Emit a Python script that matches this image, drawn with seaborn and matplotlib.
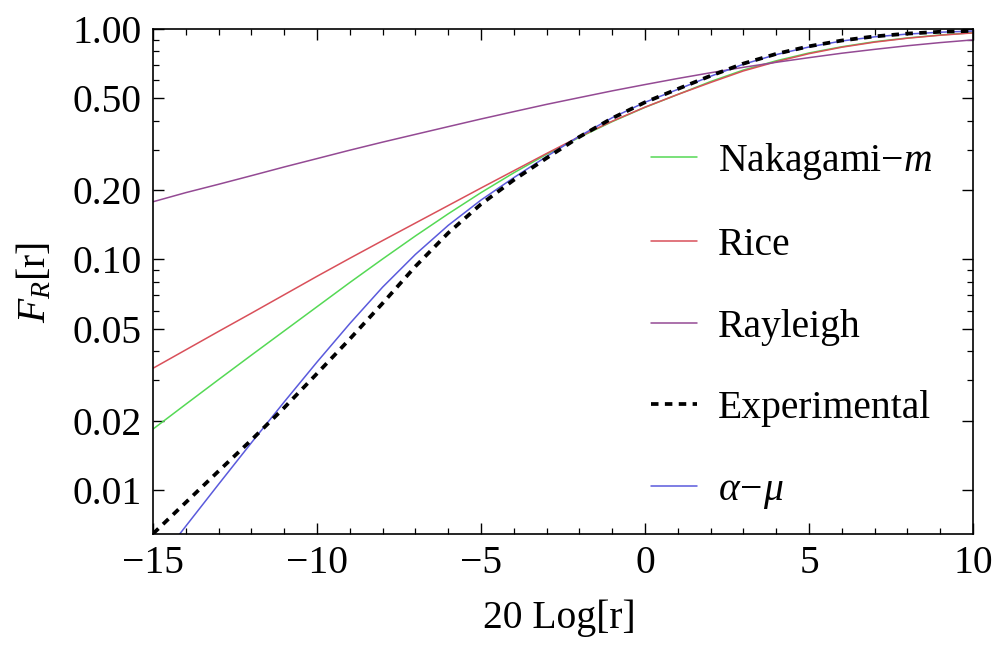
import numpy as np
import pandas as pd
import matplotlib
matplotlib.use("Agg")
import matplotlib.pyplot as plt
import seaborn as sns
from matplotlib.ticker import FixedLocator, FixedFormatter, MultipleLocator

# ---- data ----
x_db = [-15, -14, -13, -12, -11, -10, -9, -8, -7, -6, -5, -4, -3, -2, -1,
        0, 1, 2, 3, 4, 5, 6, 7, 8, 9, 10]

nakagami = [0.01837, 0.02355, 0.03013, 0.03846, 0.04898, 0.06237, 0.07943, 0.1005,
            0.1265, 0.1578, 0.1950, 0.2377, 0.2858, 0.3388, 0.3963, 0.4571,
            0.5200, 0.5916, 0.6637, 0.7278, 0.7870, 0.8375, 0.8810, 0.9141,
            0.9419, 0.9638]

rice = [0.03373, 0.04055, 0.04875, 0.05848, 0.07031, 0.08453, 0.1012, 0.1208,
        0.1439, 0.1714, 0.2042, 0.2427, 0.2884, 0.3412, 0.3981, 0.4581,
        0.5200, 0.5861, 0.6577, 0.7211, 0.7816, 0.8337, 0.8770, 0.9120,
        0.9397, 0.9616]

rayleigh = [0.178, 0.195, 0.212, 0.231, 0.252, 0.274, 0.298, 0.323, 0.349,
            0.377, 0.407, 0.438, 0.471, 0.504, 0.539, 0.574, 0.610, 0.646,
            0.682, 0.717, 0.751, 0.785, 0.816, 0.846, 0.873, 0.897]

experimental = [0.006457, 0.008831, 0.01208, 0.01648, 0.02275, 0.03199, 0.04519,
                0.06457, 0.09333, 0.1303, 0.1738, 0.2213, 0.2754, 0.3404,
                0.4102, 0.4808, 0.5495, 0.6266, 0.7079, 0.7798, 0.8414,
                0.8913, 0.9290, 0.9550, 0.9727, 0.9817]

alpha_mu = [0.004571, 0.006966, 0.01059, 0.01603, 0.02410, 0.03589, 0.05272,
            0.07586, 0.1052, 0.1406, 0.1811, 0.2265, 0.2799, 0.3428, 0.4121,
            0.4808, 0.5470, 0.6237, 0.7031, 0.7745, 0.8356, 0.8872, 0.9247,
            0.9506, 0.9683, 0.9795]

y_ticks = [0.01, 0.02, 0.05, 0.10, 0.20, 0.50, 1.00]
y_tick_labels = ["0.01", "0.02", "0.05", "0.10", "0.20", "0.50", "1.00"]
y_minor = [0.03, 0.04, 0.06, 0.07, 0.08, 0.09, 0.3, 0.4, 0.6, 0.7, 0.8, 0.9]
x_ticks = [-15, -10, -5, 0, 5, 10]

labels = ["Nakagami\u2212$m$", "Rice", "Rayleigh", "Experimental", r"$\alpha\!-\!\mu$"]

# ---- style ----
sns.set_theme(style="ticks")
plt.rcParams["font.family"] = ["Liberation Serif", "DejaVu Serif"]
plt.rcParams["mathtext.fontset"] = "custom"
plt.rcParams["mathtext.rm"] = "Liberation Serif"
plt.rcParams["mathtext.it"] = "Liberation Serif:italic"
plt.rcParams["mathtext.bf"] = "Liberation Serif:bold"
plt.rcParams["axes.unicode_minus"] = True
for key in ["text.color", "axes.labelcolor", "xtick.color", "ytick.color",
            "xtick.labelcolor", "ytick.labelcolor", "axes.edgecolor"]:
    plt.rcParams[key] = "black"

FS = 28.5

fig = plt.figure(figsize=(9.98, 6.52), dpi=100)
ax = fig.add_axes([153 / 998, 1 - 534 / 652, 820 / 998, 505 / 652])

colors = {"nak": "#55d955", "rice": "#d9505a", "ray": "#944a94",
          "exp": "#000000", "am": "#5a5adc"}

sns.lineplot(x=x_db, y=nakagami, ax=ax, color=colors["nak"], lw=1.1, label=labels[0])
sns.lineplot(x=x_db, y=rice, ax=ax, color=colors["rice"], lw=1.1, label=labels[1])
sns.lineplot(x=x_db, y=rayleigh, ax=ax, color=colors["ray"], lw=1.1, label=labels[2])
sns.lineplot(x=x_db, y=alpha_mu, ax=ax, color=colors["am"], lw=1.1, label=labels[4])
sns.lineplot(x=x_db, y=experimental, ax=ax, color=colors["exp"], lw=2.7,
             linestyle=(0, (2.0, 1.7)), label=labels[3])

ax.set_yscale("log")
ax.set_xlim(-15, 10)
ax.set_ylim(10 ** -2.191, 1.0)

ax.yaxis.set_major_locator(FixedLocator(y_ticks))
ax.yaxis.set_major_formatter(FixedFormatter(y_tick_labels))
ax.yaxis.set_minor_locator(FixedLocator(y_minor))
ax.yaxis.set_minor_formatter(FixedFormatter([""] * len(y_minor)))
ax.xaxis.set_major_locator(FixedLocator(x_ticks))
ax.xaxis.set_minor_locator(MultipleLocator(1))

ax.tick_params(which="both", direction="in", top=True, right=True, color="black")
ax.tick_params(which="major", length=8, width=1.0, labelsize=FS, pad=8)
ax.tick_params(which="minor", length=4.5, width=0.9)
for s in ax.spines.values():
    s.set_linewidth(1.2)
    s.set_color("black")

ax.set_xlabel("20 Log[r]", fontsize=FS)
ax.set_ylabel("$F_R$[r]", fontsize=FS)
ax.xaxis.set_label_coords(0.495, -0.13)
ax.yaxis.set_label_coords(-0.12, 0.497)

handles, labs = ax.get_legend_handles_labels()
order = [labs.index(l) for l in labels]
leg = ax.legend([handles[i] for i in order], [labs[i] for i in order],
                loc="center left", bbox_to_anchor=(651 / 998, 326 / 652),
                bbox_transform=fig.transFigure, frameon=False, fontsize=FS,
                handlelength=1.15, handletextpad=0.55, labelspacing=1.13,
                borderpad=0, borderaxespad=0)

fig.savefig("out.png", dpi=100)
